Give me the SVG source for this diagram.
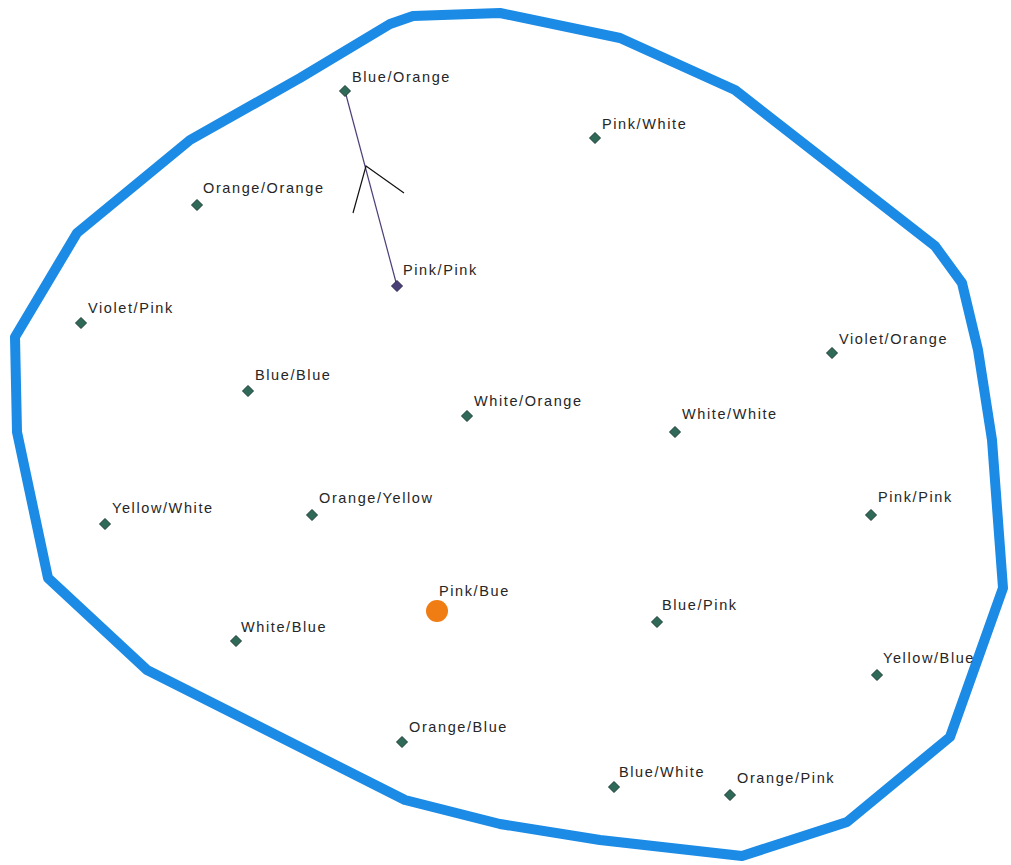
<svg xmlns="http://www.w3.org/2000/svg" width="1011" height="865" viewBox="0 0 1011 865">
  <style>
    .lbl { font-family: "Liberation Sans", Arial, sans-serif; font-size: 14.5px; letter-spacing: 1.6px; fill: #262626; }
    .pt { fill: #2e6a57; stroke: #1d3b33; stroke-width: 1; }
    .pt-alt { fill: #4b3f78; stroke: #2c2450; stroke-width: 1; }
  </style>
  <defs>
    <polygon id="dia" points="0,-5.5 5.5,0 0,5.5 -5.5,0"/>
  </defs>
  <rect width="1011" height="865" fill="#ffffff"/>

  <!-- boundary -->
  <path id="boundary" d="M390,24 L413,16 L500,13 L620,38 L735,90 L935,246 L962,283 L978,350 L992,440 L1003,588 L950,737 L847,822 L742,856 L600,840 L500,824 L405,800 L147,670 L48,578 L17,432 L15,337 L77,233 L190,140 L300,78 Z" fill="none" stroke="#1b8be6" stroke-width="10" stroke-linejoin="round"/>

  <!-- connectors -->
  <g id="connectors">
    <line x1="345" y1="91" x2="397" y2="286" stroke="#4b3c78" stroke-width="1.2"/>
    <path d="M353,213 L366,166 L404,193" fill="none" stroke="#111111" stroke-width="1.2"/>
  </g>

  <g id="n-blue-orange"><use href="#dia" class="pt" x="345" y="91"/><text class="lbl" x="352" y="82">Blue/Orange</text></g>
  <g id="n-pink-white"><use href="#dia" class="pt" x="595" y="138"/><text class="lbl" x="602" y="129">Pink/White</text></g>
  <g id="n-orange-orange"><use href="#dia" class="pt" x="197" y="205"/><text class="lbl" x="203" y="193">Orange/Orange</text></g>
  <g id="n-pink-pink-1"><use href="#dia" class="pt-alt" x="397" y="286"/><text class="lbl" x="403" y="275">Pink/Pink</text></g>
  <g id="n-violet-pink"><use href="#dia" class="pt" x="81" y="323"/><text class="lbl" x="88" y="313">Violet/Pink</text></g>
  <g id="n-violet-orange"><use href="#dia" class="pt" x="832" y="353"/><text class="lbl" x="839" y="344">Violet/Orange</text></g>
  <g id="n-blue-blue"><use href="#dia" class="pt" x="248" y="391"/><text class="lbl" x="255" y="380">Blue/Blue</text></g>
  <g id="n-white-orange"><use href="#dia" class="pt" x="467" y="416"/><text class="lbl" x="474" y="406">White/Orange</text></g>
  <g id="n-white-white"><use href="#dia" class="pt" x="675" y="432"/><text class="lbl" x="682" y="419">White/White</text></g>
  <g id="n-yellow-white"><use href="#dia" class="pt" x="105" y="524"/><text class="lbl" x="112" y="513">Yellow/White</text></g>
  <g id="n-orange-yellow"><use href="#dia" class="pt" x="312" y="515"/><text class="lbl" x="319" y="503">Orange/Yellow</text></g>
  <g id="n-pink-pink-2"><use href="#dia" class="pt" x="871" y="515"/><text class="lbl" x="878" y="502">Pink/Pink</text></g>
  <g id="n-pink-bue"><circle cx="437" cy="611" r="11" fill="#f07c14"/><text class="lbl" x="439" y="596">Pink/Bue</text></g>
  <g id="n-white-blue"><use href="#dia" class="pt" x="236" y="641"/><text class="lbl" x="241" y="632">White/Blue</text></g>
  <g id="n-blue-pink"><use href="#dia" class="pt" x="657" y="622"/><text class="lbl" x="662" y="610">Blue/Pink</text></g>
  <g id="n-yellow-blue"><use href="#dia" class="pt" x="877" y="675"/><text class="lbl" x="883" y="663">Yellow/Blue</text></g>
  <g id="n-orange-blue"><use href="#dia" class="pt" x="402" y="742"/><text class="lbl" x="409" y="732">Orange/Blue</text></g>
  <g id="n-blue-white"><use href="#dia" class="pt" x="614" y="787"/><text class="lbl" x="619" y="777">Blue/White</text></g>
  <g id="n-orange-pink"><use href="#dia" class="pt" x="730" y="795"/><text class="lbl" x="737" y="783">Orange/Pink</text></g>
</svg>
